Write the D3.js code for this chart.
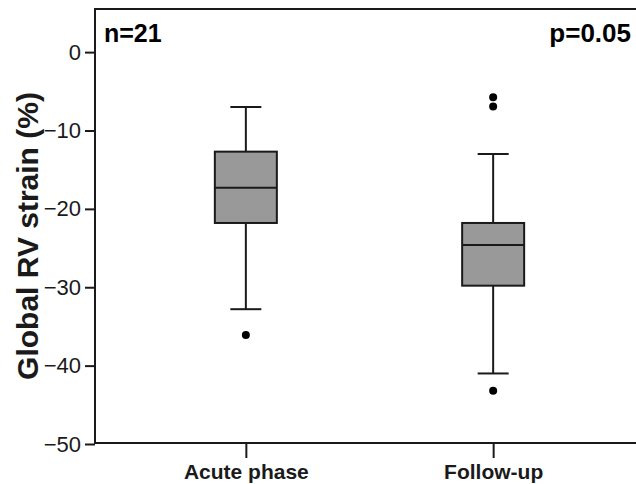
<!DOCTYPE html>
<html>
<head>
<meta charset="utf-8">
<script src="https://cdn.jsdelivr.net/npm/d3@7"></script>
<style>
	body { margin: 0; background: #fff; }
	svg { display: block; }
</style>
</head>
<body>
<div id="chart"></div>
<script>
// Box plot values
var categories = ["Acute phase", "Follow-up"];
var whiskerHigh = [-7.0, -13.0];
var q3 = [-12.7, -21.8];
var median = [-17.3, -24.6];
var q1 = [-21.8, -29.8];
var whiskerLow = [-32.8, -41.0];
var outliers = [[-36.1], [-5.75, -6.95, -43.2]];
var yTicks = [0, -10, -20, -30, -40, -50];
var nLabel = "n=21";
var pLabel = "p=0.05";

var width = 636, height = 484;
var plotLeft = 95, plotTop = 9, plotBottom = 443, plotRight = 644;

var svg = d3.select("#chart")
	.append("svg")
	.attr("width", width)
	.attr("height", height);

var x = d3.scalePoint()
	.domain(categories)
	.range([plotLeft, plotRight])
	.padding(0.61);

var y = d3.scaleLinear()
	.domain([-50, 5.5])
	.range([plotBottom + 1, plotTop]);

// frame (right edge is cut off in the original)
svg.append("rect")
	.attr("x", plotLeft)
	.attr("y", plotTop)
	.attr("width", plotRight - plotLeft)
	.attr("height", plotBottom - plotTop)
	.attr("fill", "none")
	.attr("stroke", "#1a1a1a")
	.attr("stroke-width", 2);

// Y axis
var yAxis = svg.append("g")
	.attr("transform", "translate(" + plotLeft + ",0)")
	.call(d3.axisLeft(y).tickValues(yTicks).tickSize(10).tickPadding(4).tickFormat(d3.format("d")));
yAxis.select(".domain").remove();
yAxis.selectAll("line").attr("stroke", "#1a1a1a").attr("stroke-width", 2);
yAxis.selectAll("text")
	.attr("fill", "#1a1a1a")
	.style("font-family", "Liberation Sans, Arial, sans-serif")
	.style("font-size", "22px");

// X axis
var xAxis = svg.append("g")
	.attr("transform", "translate(0," + plotBottom + ")")
	.call(d3.axisBottom(x).tickSize(15).tickPadding(6));
xAxis.select(".domain").remove();
xAxis.selectAll("line").attr("stroke", "#1a1a1a").attr("stroke-width", 2);
xAxis.selectAll("text")
	.attr("fill", "#1a1a1a")
	.style("font-family", "Liberation Sans, Arial, sans-serif")
	.style("font-size", "21px")
	.style("font-weight", "bold");

// Y title
svg.append("text")
	.attr("transform", "translate(38,236) rotate(-90)")
	.attr("text-anchor", "middle")
	.attr("fill", "#1a1a1a")
	.style("font-family", "Liberation Sans, Arial, sans-serif")
	.style("font-size", "30px")
	.style("font-weight", "bold")
	.text("Global RV strain (%)");

// boxes
var boxW = 62, capW = 31;
var data = categories.map(function(c, i) {
	return {cat: c, hi: whiskerHigh[i], q3: q3[i], med: median[i], q1: q1[i], lo: whiskerLow[i], out: outliers[i]};
});

var g = svg.selectAll(".box")
	.data(data)
	.enter().append("g")
	.attr("class", "box");

// whiskers
g.append("line")
	.attr("x1", function(d) { return x(d.cat); })
	.attr("x2", function(d) { return x(d.cat); })
	.attr("y1", function(d) { return y(d.hi); })
	.attr("y2", function(d) { return y(d.lo); })
	.attr("stroke", "#1a1a1a").attr("stroke-width", 2);
g.append("line")
	.attr("x1", function(d) { return x(d.cat) - capW / 2; })
	.attr("x2", function(d) { return x(d.cat) + capW / 2; })
	.attr("y1", function(d) { return y(d.hi); })
	.attr("y2", function(d) { return y(d.hi); })
	.attr("stroke", "#1a1a1a").attr("stroke-width", 2);
g.append("line")
	.attr("x1", function(d) { return x(d.cat) - capW / 2; })
	.attr("x2", function(d) { return x(d.cat) + capW / 2; })
	.attr("y1", function(d) { return y(d.lo); })
	.attr("y2", function(d) { return y(d.lo); })
	.attr("stroke", "#1a1a1a").attr("stroke-width", 2);

// box
g.append("rect")
	.attr("x", function(d) { return x(d.cat) - boxW / 2; })
	.attr("y", function(d) { return y(d.q3); })
	.attr("width", boxW)
	.attr("height", function(d) { return y(d.q1) - y(d.q3); })
	.attr("fill", "#999999")
	.attr("stroke", "#1a1a1a").attr("stroke-width", 2);

// median
g.append("line")
	.attr("x1", function(d) { return x(d.cat) - boxW / 2; })
	.attr("x2", function(d) { return x(d.cat) + boxW / 2; })
	.attr("y1", function(d) { return y(d.med); })
	.attr("y2", function(d) { return y(d.med); })
	.attr("stroke", "#1a1a1a").attr("stroke-width", 2);

// outliers
g.selectAll(".out")
	.data(function(d) { return d.out.map(function(v) { return {cat: d.cat, v: v}; }); })
	.enter().append("circle")
	.attr("cx", function(d) { return x(d.cat); })
	.attr("cy", function(d) { return y(d.v); })
	.attr("r", 4)
	.attr("fill", "#000");

// annotations
svg.append("text")
	.attr("x", 104)
	.attr("y", 42)
	.attr("fill", "#000")
	.style("font-family", "Liberation Sans, Arial, sans-serif")
	.style("font-size", "25px")
	.style("font-weight", "bold")
	.text(nLabel);
svg.append("text")
	.attr("x", 631)
	.attr("y", 42)
	.attr("text-anchor", "end")
	.attr("fill", "#000")
	.style("font-family", "Liberation Sans, Arial, sans-serif")
	.style("font-size", "26px")
	.style("font-weight", "bold")
	.text(pLabel);
</script>
</body>
</html>
